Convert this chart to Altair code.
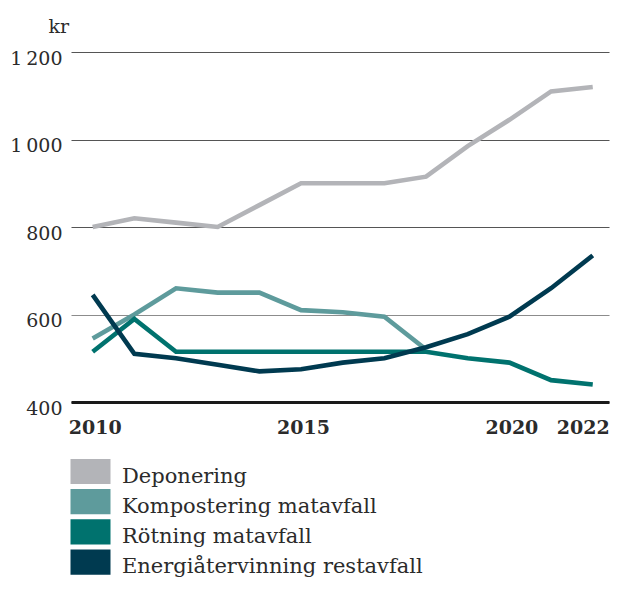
import altair as alt
import pandas as pd

years = list(range(2010, 2023))
series_names = ["Deponering", "Kompostering matavfall", "Rötning matavfall", "Energiåtervinning restavfall"]
colors = ["#b3b4b8", "#5e9b9c", "#00726e", "#003a50"]

deponering = [800, 820, 810, 800, 850, 900, 900, 900, 915, 985, 1045, 1110, 1120]
kompostering = [545, 600, 660, 650, 650, 610, 605, 595, 520]
rotning = [515, 590, 515, 515, 515, 515, 515, 515, 515, 500, 490, 450, 440]
energi = [645, 510, 500, 485, 470, 475, 490, 500, 525, 555, 595, 660, 735]

y_ticks = [400, 600, 800, 1000, 1200]
x_ticks = [2010, 2015, 2020, 2022]

rows = []
for name, vals in zip(series_names, [deponering, kompostering, rotning, energi]):
    for yr, v in zip(years, vals):
        rows.append({"year": yr, "value": v, "series": name})
df = pd.DataFrame(rows)

FONT = "DejaVu Serif"
TXT = "#2b2b2b"

# legend swatch: a block of thin horizontal strokes that reads as a filled rectangle
swatch = "".join(f"M-20,{y}H20" for y in range(-17, 8))

chart = alt.Chart(df).mark_line(strokeWidth=4.6).encode(
    x=alt.X("year:Q",
            scale=alt.Scale(domain=[2009.48, 2022.39], nice=False, zero=False),
            axis=alt.Axis(values=x_ticks, format="d", title=None, grid=False, ticks=False,
                          domain=True, domainColor="#1a1a1a", domainWidth=3,
                          labelFont=FONT, labelFontWeight="bold", labelFontSize=19,
                          labelColor=TXT, labelPadding=16, labelFlush=False,
                          labelOffset={"condition": {"test": "datum.value === 2022", "value": -10},
                                       "value": 2})),
    y=alt.Y("value:Q",
            scale=alt.Scale(domain=[400, 1200], nice=False, zero=False),
            axis=alt.Axis(values=y_ticks, title="kr", titleAngle=0, titleAlign="left",
                          titleBaseline="alphabetic", titleX=-23, titleY=-20,
                          titleFont=FONT, titleFontSize=19, titleFontWeight="normal", titleColor=TXT,
                          grid=True,
                          gridColor={"condition": {"test": "datum.value === 600", "value": "#8c8c8c"},
                                     "value": "#555555"},
                          gridWidth=1.2, domain=False, ticks=False,
                          labelFont=FONT, labelFontSize=19, labelColor=TXT, labelPadding=9,
                          labelBaseline="alphabetic", labelOffset=12,
                          labelExpr="replace(format(datum.value, ','), ',', '\u2009')")),
    color=alt.Color("series:N",
                    scale=alt.Scale(domain=series_names, range=colors),
                    legend=alt.Legend(title=None, orient="none", legendX=9, legendY=414,
                                      direction="vertical",
                                      symbolType=swatch, symbolSize=4,
                                      symbolStrokeWidth=1.2,
                                      labelFont=FONT, labelFontSize=21, labelColor=TXT,
                                      labelOffset=21, rowPadding=0.2, labelLimit=500)),
    order=alt.Order("year:Q"),
).properties(
    width=538, height=350,
    autosize=alt.AutoSizeParams(type="none"),
    padding={"left": 63, "top": 44, "right": 2, "bottom": 176},
).configure_view(stroke=None)

chart.save("out.html", embed_options={"renderer": "svg", "actions": False})
